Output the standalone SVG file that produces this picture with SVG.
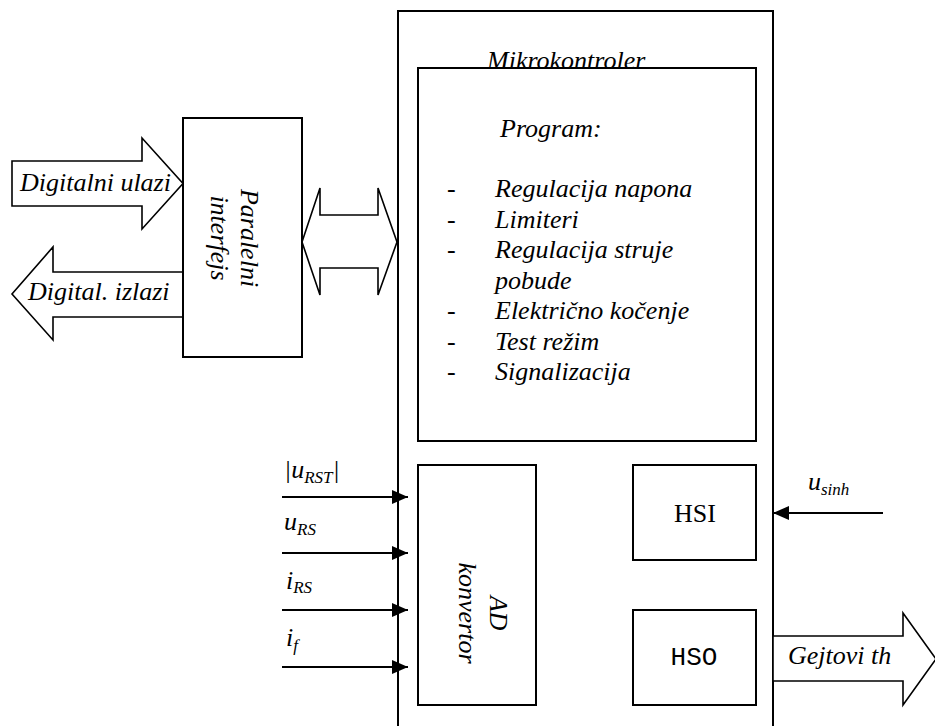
<svg xmlns="http://www.w3.org/2000/svg" width="935" height="726" viewBox="0 0 935 726">
<defs>
<style>
.box{fill:#fff;stroke:#000;stroke-width:2}
.blk{fill:#fff;stroke:#000;stroke-width:1.6;stroke-linejoin:miter}
.ln{fill:none;stroke:#000;stroke-width:2}
</style>
<marker id="ah" markerUnits="userSpaceOnUse" markerWidth="16" markerHeight="14" refX="16" refY="7" orient="auto">
<path d="M0,0 L16,7 L0,14 z" fill="#000"/>
</marker>
</defs>
<rect width="935" height="726" fill="#fff"/>

<g id="mikrokontroler">
<rect class="box" x="398" y="11" width="375" height="730"/>
<text font-family="'Liberation Serif', serif" font-size="26" font-style="italic" x="487" y="69">Mikrokontroler</text>
</g>

<g id="program" font-family="'Liberation Serif', serif" font-size="26">
<rect class="box" x="418" y="68" width="338" height="373"/>
<text font-style="italic" x="500" y="137">Program:</text>
<text x="447" y="197">-</text>
<text font-style="italic" x="495" y="197">Regulacija napona</text>
<text x="447" y="228">-</text>
<text font-style="italic" x="495" y="228">Limiteri</text>
<text x="447" y="258">-</text>
<text font-style="italic" x="495" y="258">Regulacija struje</text>
<text font-style="italic" x="495" y="289">pobude</text>
<text x="447" y="319">-</text>
<text font-style="italic" x="495" y="319">Elektri&#269;no ko&#269;enje</text>
<text x="447" y="350">-</text>
<text font-style="italic" x="495" y="350">Test re&#382;im</text>
<text x="447" y="380">-</text>
<text font-style="italic" x="495" y="380">Signalizacija</text>
</g>

<g id="connectors">
<polygon class="blk" points="12,161 142,161 142,138 183,183.5 142,229 142,206 12,206"/>
<polygon class="blk" points="183,272 53,272 53,247 12,294 53,340 53,317 183,317"/>
<polygon class="blk" points="302,242 320,188 320,215 378,215 378,188 397,242 378,295 378,268 320,268 320,295"/>
<polygon class="blk" points="773,636 903,636 903,613 936,659 903,705 903,681 773,681"/>
<line class="ln" x1="282" y1="497" x2="408" y2="497" marker-end="url(#ah)"/>
<line class="ln" x1="282" y1="553" x2="408" y2="553" marker-end="url(#ah)"/>
<line class="ln" x1="282" y1="610" x2="408" y2="610" marker-end="url(#ah)"/>
<line class="ln" x1="282" y1="667" x2="408" y2="667" marker-end="url(#ah)"/>
<line class="ln" x1="883" y1="513" x2="773" y2="513" marker-end="url(#ah)"/>
<g font-family="'Liberation Serif', serif" font-size="26" font-style="italic">
<text x="20" y="191">Digitalni ulazi</text>
<text x="28" y="300">Digital. izlazi</text>
<text x="788" y="664">Gejtovi th</text>
<text x="284" y="478">|u<tspan font-size="17" dy="5">RST</tspan><tspan dy="-5">|</tspan></text>
<text x="284" y="530">u<tspan font-size="17" dy="5">RS</tspan></text>
<text x="286" y="589">i<tspan font-size="17" dy="4">RS</tspan></text>
<text x="286" y="646">i<tspan font-size="17" dy="5">f</tspan></text>
<text x="808" y="490">u<tspan font-size="17" dy="5">sinh</tspan></text>
</g>
</g>

<g id="paralelni-interfejs">
<rect class="box" x="183" y="118" width="119" height="239"/>
<g transform="translate(241,238) rotate(90)" font-family="'Liberation Serif', serif" font-size="26" font-style="italic" text-anchor="middle">
<text x="0" y="0">Paralelni</text>
<text x="0" y="30">interfejs</text>
</g>
</g>

<g id="ad-konvertor">
<rect class="box" x="418" y="465" width="118" height="240"/>
<g transform="translate(490,613) rotate(90)" font-family="'Liberation Serif', serif" font-size="26" font-style="italic" text-anchor="middle">
<text x="0" y="0">AD</text>
<text x="0" y="31">konvertor</text>
</g>
</g>

<g id="hsi">
<rect class="box" x="633" y="465" width="123" height="95"/>
<text font-family="'Liberation Serif', serif" font-size="26" x="695" y="522" text-anchor="middle">HSI</text>
</g>

<g id="hso">
<rect class="box" x="633" y="610" width="123" height="95"/>
<text font-family="'Liberation Mono', monospace" font-size="26" x="694" y="665" text-anchor="middle">HSO</text>
</g>
</svg>
